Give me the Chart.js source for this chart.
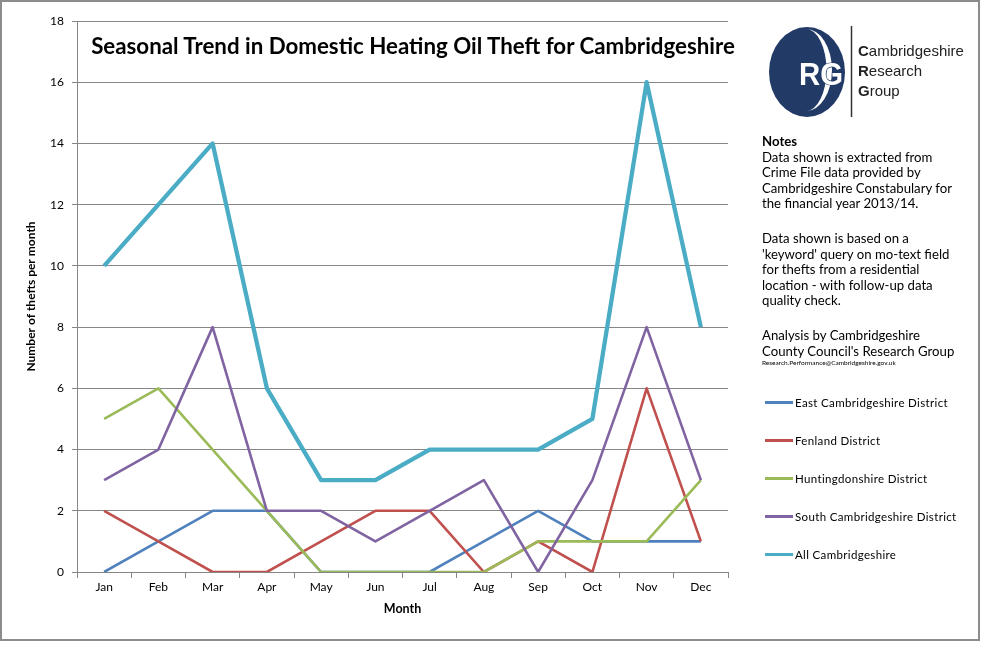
<!DOCTYPE html>
<html>
<head>
<meta charset="utf-8">
<script src="https://cdn.jsdelivr.net/npm/chart.js@4.4.1/dist/chart.umd.min.js"></script>
<style>
  html, body { margin: 0; padding: 0; background: #fff; }
  body { width: 984px; height: 646px; position: relative; overflow: hidden; }
  #frame { position: absolute; left: 0; top: 0; width: 980px; height: 641px; box-sizing: border-box; border: 2px solid #8c8c8c; pointer-events: none; }
  #wrap { position: absolute; left: 0; top: 0; width: 984px; height: 646px; }
  #title { position: absolute; left: 413px; top: 32px; transform: translateX(-50%); white-space: nowrap;
           font-family: Lato, "Open Sans", sans-serif; font-weight: bold; font-size: 22.3px; color: #000; }
  .notes { position: absolute; left: 762px; font-family: Lato, "Open Sans", sans-serif; font-size: 13.2px; color: #000; white-space: nowrap; }
  .notes div { height: 15.6px; line-height: 15.6px; }
  #legend { position: absolute; left: 765px; top: 0; font-family: Lato, "Open Sans", sans-serif; font-size: 11.5px; color: #000; }
  .leg { position: absolute; left: 0; white-space: nowrap; display: flex; align-items: center; height: 16px; }
  .leg span.sw { display: inline-block; width: 28px; height: 3px; margin-right: 2px; }
  .leg span.tx { letter-spacing: 0.35px; }
  #logo { position: absolute; left: 760px; top: 20px; }
</style>
</head>
<body>
<div id="wrap"><canvas id="c" width="984" height="646"></canvas></div>
<div id="title">Seasonal Trend in Domestic Heating Oil Theft for Cambridgeshire</div>

<svg id="logo" width="220" height="105" viewBox="0 0 220 105">
  <ellipse cx="47" cy="52" rx="38" ry="45" fill="#213a66"/>
  <path d="M 46 9 A 26 41 0 0 1 46 91 A 20 40 0 0 0 46 9 Z" fill="#ffffff"/>
  <text x="39" y="65" font-family="'Liberation Sans Narrow', 'Liberation Sans', Arial, sans-serif" font-weight="bold" font-size="32"
        fill="#ffffff" stroke="#213a66" stroke-width="1.2" paint-order="stroke" textLength="44" lengthAdjust="spacingAndGlyphs">RG</text>
  <line x1="91.5" y1="6" x2="91.5" y2="97" stroke="#333" stroke-width="1.5"/>
  <text x="98" y="36" font-family="'Liberation Sans', Arial, sans-serif" font-size="15" fill="#222"><tspan font-weight="bold">C</tspan>ambridgeshire</text>
  <text x="98" y="56" font-family="'Liberation Sans', Arial, sans-serif" font-size="15" fill="#222"><tspan font-weight="bold">R</tspan>esearch</text>
  <text x="98" y="76" font-family="'Liberation Sans', Arial, sans-serif" font-size="15" fill="#222"><tspan font-weight="bold">G</tspan>roup</text>
</svg>

<div class="notes" style="top:134px">
  <div style="font-weight:bold">Notes</div>
  <div>Data shown is extracted from</div>
  <div>Crime File data provided by</div>
  <div>Cambridgeshire Constabulary for</div>
  <div>the financial year 2013/14.</div>
</div>
<div class="notes" style="top:231px">
  <div>Data shown is based on a</div>
  <div>'keyword' query on mo-text field</div>
  <div>for thefts from a residential</div>
  <div>location - with follow-up data</div>
  <div>quality check.</div>
</div>
<div class="notes" style="top:328px">
  <div>Analysis by Cambridgeshire</div>
  <div>County Council's Research Group</div>
  <div style="font-size:6.5px; height:9px; line-height:9px; margin-top:-1px">Research.Performance@Cambridgeshire.gov.uk</div>
</div>

<div id="legend"></div>
<div id="frame"></div>

<script>
// ---- data ----
const months = ['Jan', 'Feb', 'Mar', 'Apr', 'May', 'Jun', 'Jul', 'Aug', 'Sep', 'Oct', 'Nov', 'Dec'];
const seriesNames = ['East Cambridgeshire District', 'Fenland District', 'Huntingdonshire District', 'South Cambridgeshire District', 'All Cambridgeshire'];
const eastCambs  = [0, 1, 2, 2, 0, 0, 0, 1, 2, 1, 1, 1];
const fenland    = [2, 1, 0, 0, 1, 2, 2, 0, 1, 0, 6, 1];
const hunts      = [5, 6, 4, 2, 0, 0, 0, 0, 1, 1, 1, 3];
const southCambs = [3, 4, 8, 2, 2, 1, 2, 3, 0, 3, 8, 3];
const allCambs   = [10, 12, 14, 6, 3, 3, 4, 4, 4, 5, 16, 8];
const yTicks = [0, 2, 4, 6, 8, 10, 12, 14, 16, 18];

// ---- styles ----
const seriesValues = [eastCambs, fenland, hunts, southCambs, allCambs];
const colors = ['#4f81bd', '#c0504d', '#9bbb59', '#8064a2', '#4bacc6'];
const widths = [2.6, 2.6, 2.6, 2.6, 4.3];
const gridColor = '#868686';
const fontFam = 'Lato, "Open Sans", sans-serif';

const datasets = seriesNames.map((name, i) => ({
  label: name,
  data: seriesValues[i],
  borderColor: colors[i],
  backgroundColor: colors[i],
  borderWidth: widths[i],
  pointRadius: 0,
  pointHoverRadius: 0,
  tension: 0,
  fill: false,
  borderJoinStyle: 'round',
  order: seriesNames.length - i
}));

new Chart(document.getElementById('c'), {
  type: 'line',
  data: { labels: months, datasets },
  options: {
    responsive: false,
    animation: false,
    events: [],
    layout: { padding: { left: 0, top: 21, right: 256, bottom: 0 } },
    plugins: { legend: { display: false }, tooltip: { enabled: false }, title: { display: false } },
    scales: {
      x: {
        type: 'category',
        offset: true,
        grid: { offset: true, drawOnChartArea: false, drawTicks: true, tickLength: 6, color: gridColor, lineWidth: 1 },
        border: { display: true, color: gridColor, width: 1 },
        ticks: { color: '#000', font: { family: fontFam, size: 12 }, padding: 2, maxRotation: 0, autoSkip: false },
        title: { display: true, text: 'Month', color: '#000', font: { family: fontFam, size: 12.5, weight: 'bold' }, padding: { top: 0, bottom: 30 } },
        afterFit: (s) => { s.height = 74; }
      },
      y: {
        min: 0, max: 18,
        afterBuildTicks: (s) => { s.ticks = yTicks.map(v => ({ value: v })); },
        grid: { color: gridColor, lineWidth: 1, tickLength: 5, drawTicks: true },
        border: { display: true, color: gridColor, width: 1 },
        ticks: { color: '#000', font: { family: fontFam, size: 12 }, padding: 8, stepSize: 2 },
        title: { display: true, text: 'Number of thefts per month', color: '#000', font: { family: fontFam, size: 12, weight: 'bold' }, padding: { top: 24, bottom: 0 } },
        afterFit: (s) => { s.width = 77; }
      }
    }
  }
});

// ---- HTML legend ----
const legendRowsY = [402, 440, 478, 516, 554];
const legend = document.getElementById('legend');
seriesNames.forEach((name, i) => {
  const row = document.createElement('div');
  row.className = 'leg';
  row.style.top = (legendRowsY[i] - 8) + 'px';
  const sw = document.createElement('span');
  sw.className = 'sw';
  sw.style.background = colors[i];
  const tx = document.createElement('span');
  tx.className = 'tx';
  tx.textContent = name;
  row.appendChild(sw); row.appendChild(tx);
  legend.appendChild(row);
});
</script>
</body>
</html>
